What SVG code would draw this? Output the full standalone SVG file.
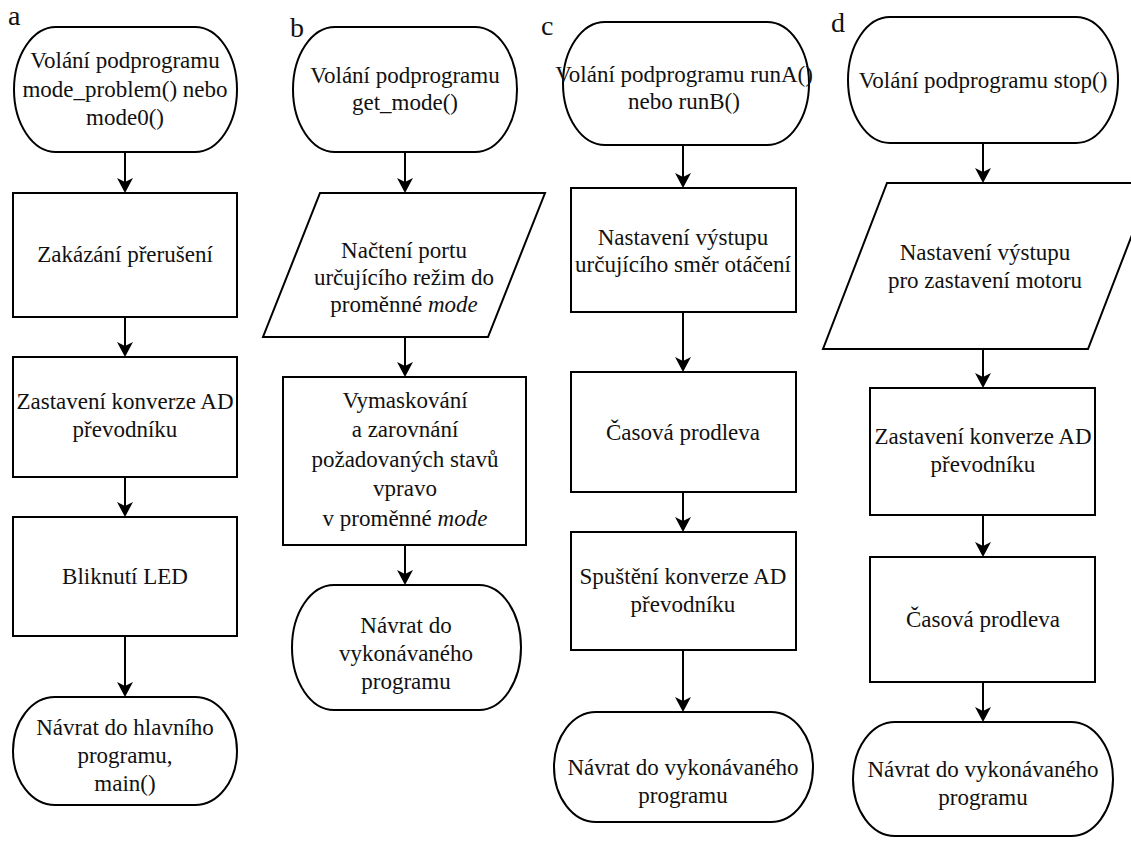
<svg xmlns="http://www.w3.org/2000/svg" width="1131" height="843" viewBox="0 0 1131 843" font-family="'Liberation Serif', 'DejaVu Serif', serif">
  <style>
    .shape { fill: #ffffff; stroke: #000000; stroke-width: 2; }
    .edge { fill: none; stroke: #000000; stroke-width: 2; marker-end: url(#arrow); }
    text { font-family: 'Liberation Serif', 'DejaVu Serif', serif; fill: #111111; }
    .lbl { font-size: 23px; text-anchor: middle; }
    .tag { font-size: 28px; }
    .it { font-style: italic; }
  </style>
  <defs>
    <marker id="arrow" viewBox="0 0 14 16" refX="11" refY="8" markerWidth="14" markerHeight="16" markerUnits="userSpaceOnUse" orient="auto">
      <path d="M0,0 L15,8 L0,16 L4,8 z" fill="#000000"/>
    </marker>
  </defs>

  <rect x="0" y="0" width="1131" height="843" fill="#ffffff"/>

  <!-- panel letters -->
  <text class="tag" x="8" y="25">a</text>
  <text class="tag" x="290" y="37">b</text>
  <text class="tag" x="541" y="35">c</text>
  <text class="tag" x="831" y="32">d</text>

  <!-- connectors -->
  <g id="connectors">
    <path class="edge" d="M125,152 V189"/>
    <path class="edge" d="M125,317 V353"/>
    <path class="edge" d="M125,477 V513"/>
    <path class="edge" d="M125,636 V693"/>

    <path class="edge" d="M405,152 V189"/>
    <path class="edge" d="M405,337 V373"/>
    <path class="edge" d="M405,545 V581"/>

    <path class="edge" d="M683,145 V184"/>
    <path class="edge" d="M683,312 V368"/>
    <path class="edge" d="M683,492 V528"/>
    <path class="edge" d="M683,650 V708"/>

    <path class="edge" d="M983,143 V179"/>
    <path class="edge" d="M983,349 V384"/>
    <path class="edge" d="M983,515 V553"/>
    <path class="edge" d="M983,682 V718"/>
  </g>

  <!-- flow a -->
  <g id="a-start">
    <rect class="shape" x="14" y="27" width="223" height="125" rx="42" ry="62.5"/>
    <text class="lbl" x="125" y="68">Volání podprogramu</text>
    <text class="lbl" x="125" y="97">mode_problem() nebo</text>
    <text class="lbl" x="125" y="125">mode0()</text>
  </g>
  <g id="a-irq">
    <rect class="shape" x="13" y="193" width="224" height="124"/>
    <text class="lbl" x="125" y="262">Zakázání přerušení</text>
  </g>
  <g id="a-adc">
    <rect class="shape" x="13" y="357" width="224" height="120"/>
    <text class="lbl" x="125" y="409">Zastavení konverze AD</text>
    <text class="lbl" x="125" y="437">převodníku</text>
  </g>
  <g id="a-led">
    <rect class="shape" x="13" y="517" width="224" height="119"/>
    <text class="lbl" x="125" y="584">Bliknutí LED</text>
  </g>
  <g id="a-end">
    <rect class="shape" x="13" y="697" width="224" height="108" rx="42" ry="54"/>
    <text class="lbl" x="125" y="735">Návrat do hlavního</text>
    <text class="lbl" x="125" y="763">programu,</text>
    <text class="lbl" x="125" y="791">main()</text>
  </g>

  <!-- flow b -->
  <g id="b-start">
    <rect class="shape" x="293" y="27" width="224" height="125" rx="42" ry="62.5"/>
    <text class="lbl" x="405" y="83">Volání podprogramu</text>
    <text class="lbl" x="405" y="110">get_mode()</text>
  </g>
  <g id="b-read">
    <polygon class="shape" points="320,193 545,193 488,337 263,337"/>
    <text class="lbl" x="404" y="258">Načtení portu</text>
    <text class="lbl" x="404" y="285">určujícího režim do</text>
    <text class="lbl" x="404" y="312">proměnné <tspan class="it">mode</tspan></text>
  </g>
  <g id="b-mask">
    <rect class="shape" x="283" y="377" width="243" height="168"/>
    <text class="lbl" x="405" y="408">Vymaskování</text>
    <text class="lbl" x="405" y="437">a zarovnání</text>
    <text class="lbl" x="405" y="467">požadovaných stavů</text>
    <text class="lbl" x="405" y="496">vpravo</text>
    <text class="lbl" x="405" y="526">v proměnné <tspan class="it">mode</tspan></text>
  </g>
  <g id="b-end">
    <rect class="shape" x="292" y="585" width="229" height="125" rx="42" ry="62.5"/>
    <text class="lbl" x="406" y="633">Návrat do</text>
    <text class="lbl" x="406" y="661">vykonávaného</text>
    <text class="lbl" x="406" y="689">programu</text>
  </g>

  <!-- flow c -->
  <g id="c-start">
    <rect class="shape" x="563" y="22" width="246" height="123" rx="42" ry="61.5"/>
    <text class="lbl" x="684" y="82">Volání podprogramu runA()</text>
    <text class="lbl" x="684" y="109">nebo runB()</text>
  </g>
  <g id="c-dir">
    <rect class="shape" x="571" y="188" width="225" height="124"/>
    <text class="lbl" x="683" y="245">Nastavení výstupu</text>
    <text class="lbl" x="683" y="272">určujícího směr otáčení</text>
  </g>
  <g id="c-delay">
    <rect class="shape" x="571" y="372" width="225" height="120"/>
    <text class="lbl" x="683" y="440">Časová prodleva</text>
  </g>
  <g id="c-adc">
    <rect class="shape" x="571" y="532" width="225" height="118"/>
    <text class="lbl" x="683" y="584">Spuštění konverze AD</text>
    <text class="lbl" x="683" y="612">převodníku</text>
  </g>
  <g id="c-end">
    <rect class="shape" x="554" y="712" width="259" height="110" rx="42" ry="55"/>
    <text class="lbl" x="683" y="775">Návrat do vykonávaného</text>
    <text class="lbl" x="683" y="803">programu</text>
  </g>

  <!-- flow d -->
  <g id="d-start">
    <rect class="shape" x="848" y="17" width="270" height="126" rx="42" ry="63"/>
    <text class="lbl" x="983" y="88">Volání podprogramu stop()</text>
  </g>
  <g id="d-out">
    <polygon class="shape" points="887,183 1152,183 1088,349 823,349"/>
    <text class="lbl" x="985" y="260">Nastavení výstupu</text>
    <text class="lbl" x="985" y="288">pro zastavení motoru</text>
  </g>
  <g id="d-adc">
    <rect class="shape" x="870" y="388" width="225" height="127"/>
    <text class="lbl" x="983" y="444">Zastavení konverze AD</text>
    <text class="lbl" x="983" y="472">převodníku</text>
  </g>
  <g id="d-delay">
    <rect class="shape" x="870" y="557" width="225" height="125"/>
    <text class="lbl" x="983" y="627">Časová prodleva</text>
  </g>
  <g id="d-end">
    <rect class="shape" x="853" y="722" width="260" height="114" rx="42" ry="57"/>
    <text class="lbl" x="983" y="777">Návrat do vykonávaného</text>
    <text class="lbl" x="983" y="805">programu</text>
  </g>
</svg>
